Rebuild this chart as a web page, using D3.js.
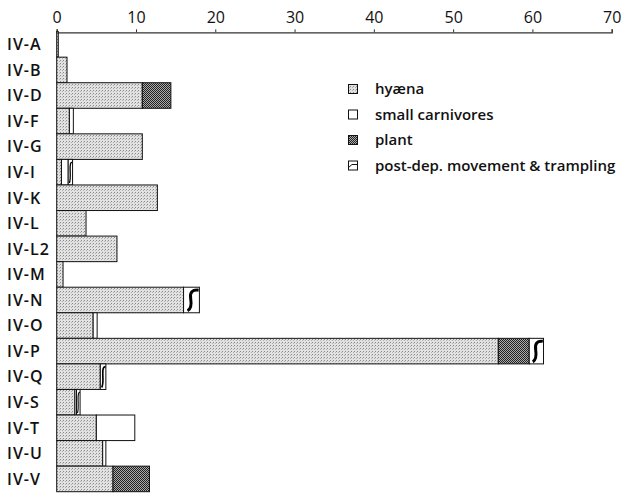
<!DOCTYPE html>
<html>
<head>
<meta charset="utf-8">
<script src="https://cdn.jsdelivr.net/npm/d3@7"></script>
<style>
  body { margin: 0; background: #fff; }
  text { font-family: "Open Sans", Lato, sans-serif; fill: #111; font-weight: 600; }
</style>
</head>
<body>
<svg id="chart"></svg>
<script>
// values (number of remains per agent)
const categories = ["IV-A", "IV-B", "IV-D", "IV-F", "IV-G", "IV-I", "IV-K", "IV-L", "IV-L2",
    "IV-M", "IV-N", "IV-O", "IV-P", "IV-Q", "IV-S", "IV-T", "IV-U", "IV-V"];
const hyaena = [0.2, 1.3, 10.8, 1.6, 10.8, 0.6, 12.7, 3.7, 7.6, 0.8, 16.0, 4.6, 55.7, 5.5, 2.3, 5.0, 5.8, 7.1];
const smallCarnivores = [0, 0, 0, 0.5, 0, 0.85, 0, 0, 0, 0, 0, 0.5, 0, 0, 0.2, 4.85, 0.4, 0];
const plant = [0, 0, 3.6, 0, 0, 0, 0, 0, 0, 0, 0, 0, 3.9, 0, 0, 0, 0, 4.6];
const postDep = [0, 0, 0, 0, 0, 0.55, 0, 0, 0, 0, 2.0, 0, 1.8, 0.7, 0.45, 0, 0, 0];
const seriesNames = ["hyæna", "small carnivores", "plant", "post-dep. movement & trampling"];
const xTicks = [0, 10, 20, 30, 40, 50, 60, 70];

const width = 624;
const height = 493;

const svg = d3.select('svg#chart').attr('width', width).attr('height', height);

// patterns for the fills
const defs = svg.append('defs');
const hy = defs.append('pattern').attr('id', 'hy').attr('patternUnits', 'userSpaceOnUse')
    .attr('width', 3).attr('height', 3);
hy.append('rect').attr('width', 3).attr('height', 3).attr('fill', '#e2e2e2');
hy.append('rect').attr('x', 0).attr('y', 0).attr('width', 1).attr('height', 1).attr('fill', '#8a8a8a');
hy.append('rect').attr('x', 2).attr('y', 1).attr('width', 1).attr('height', 1).attr('fill', '#b0b0b0');
const pl = defs.append('pattern').attr('id', 'pl').attr('patternUnits', 'userSpaceOnUse')
    .attr('width', 2).attr('height', 2);
pl.append('rect').attr('width', 2).attr('height', 2).attr('fill', '#aaa');
pl.append('rect').attr('width', 1).attr('height', 1).attr('fill', '#222');
pl.append('rect').attr('x', 1).attr('y', 1).attr('width', 1).attr('height', 1).attr('fill', '#222');

const fills = ['url(#hy)', '#fff', 'url(#pl)', '#fff'];

const x = d3.scaleLinear().domain([0, 70]).range([56.7, 611.7]);
const y = d3.scaleBand().domain(categories).range([31.6, 491.7]).padding(0);

// top axis
const axis = svg.append('g').attr('transform', 'translate(0,32.3)')
    .call(d3.axisTop(x).tickValues(xTicks).tickSize(3).tickPadding(6));
axis.select('.domain').attr('stroke', '#333').attr('stroke-width', 1.3);
axis.selectAll('.tick line').attr('stroke', '#333');
axis.selectAll('.tick text').style('font-size', '16px').style('font-family', '"Open Sans", sans-serif')
    .style('font-weight', 500).attr('fill', '#111');

// category labels
svg.append('g').selectAll('text').data(categories).join('text')
    .attr('x', 7)
    .attr('y', d => y(d) + y.bandwidth() / 2)
    .attr('dy', '0.36em')
    .style('font-size', '16px')
    .style('letter-spacing', '1px')
    .text(d => d);

// stacked bars
const rows = categories.map((c, i) => ({ cat: c, vals: [hyaena[i], smallCarnivores[i], plant[i], postDep[i]] }));
const bars = svg.append('g');
rows.forEach(r => {
    let start = 0;
    r.vals.forEach((v, k) => {
        if (v <= 0) return;
        const x0 = x(start), x1 = x(start + v);
        const y0 = y(r.cat), h = y.bandwidth();
        bars.append('rect')
            .attr('x', x0).attr('y', y0)
            .attr('width', x1 - x0).attr('height', h)
            .attr('fill', fills[k])
            .attr('stroke', '#111').attr('stroke-width', 1);
        if (k === 3) {
            const w = x1 - x0;
            // curved trampling mark
            bars.append('path')
                .attr('d', `M${x0 + w * 0.95},${y0 + 3} Q${x0 + w * 0.35},${y0 + 2} ${x0 + w * 0.45},${y0 + h * 0.45} T${x0 + w * 0.25},${y0 + h - 2}`)
                .attr('fill', 'none').attr('stroke', '#000').attr('stroke-width', Math.min(3, w * 0.3));
        }
        start += v;
    });
});

// legend
const legend = svg.append('g').attr('transform', 'translate(353,89)');
seriesNames.forEach((name, k) => {
    const g = legend.append('g').attr('transform', `translate(0,${k * 25.5})`);
    g.append('rect').attr('x', -4.5).attr('y', -4.5).attr('width', 9).attr('height', 9)
        .attr('fill', fills[k]).attr('stroke', '#111').attr('stroke-width', 1);
    if (k === 3) {
        g.append('path').attr('d', 'M-4.5,2 L-1,-1 L4.5,-1').attr('fill', 'none')
            .attr('stroke', '#111').attr('stroke-width', 1);
    }
    g.append('text').attr('x', 22).attr('dy', '0.36em').style('font-size', '15px').text(name);
});
</script>
</body>
</html>
